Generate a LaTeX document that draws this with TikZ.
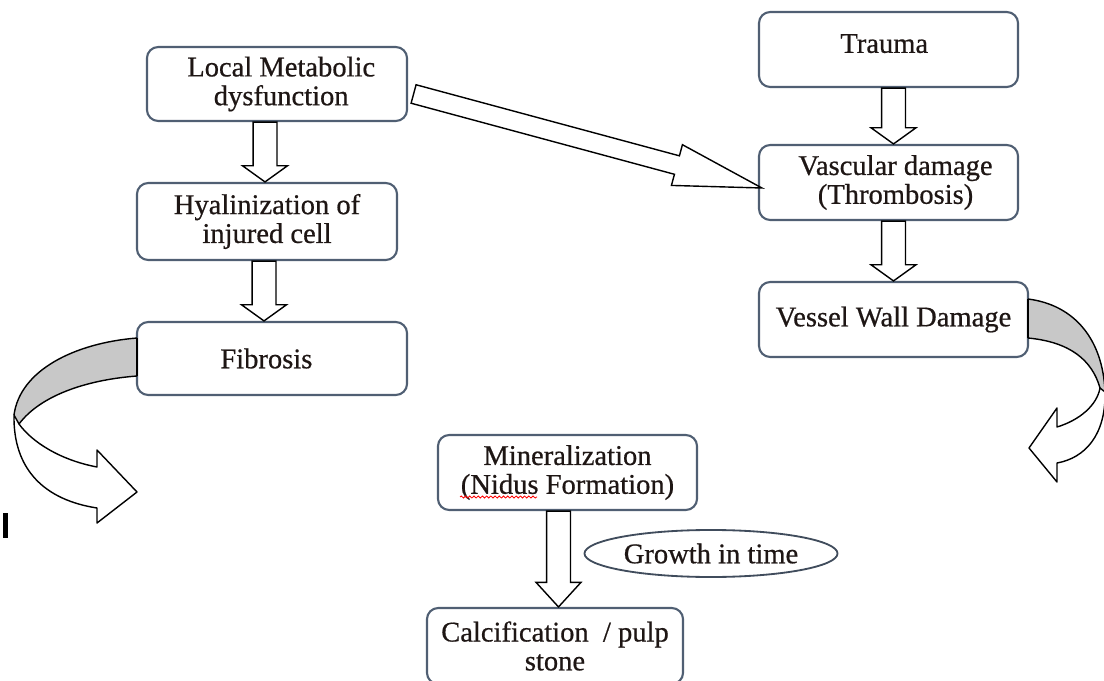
\documentclass[tikz,border=0pt]{standalone}
\usepackage{fontspec}
\setmainfont{Liberation Serif}[UprightFeatures={FakeBold=0.6}]
\usetikzlibrary{calc,shapes.geometric,decorations.pathmorphing}
\definecolor{boxline}{RGB}{80,95,115}
\definecolor{txt}{RGB}{30,22,20}
\definecolor{bandgray}{RGB}{200,200,200}
\begin{document}
\begin{tikzpicture}[x=0.025cm,y=-0.025cm]
\tikzset{
  box/.style={draw=boxline, line width=1.5pt, rounded corners=8pt, fill=white,
    minimum width=6.5cm, minimum height=1.875cm, align=center, text=txt,
    font=\fontsize{20.3}{20.5}\selectfont, inner sep=2pt},
  bshaft/.code={\def\bshaftv{#1}},
  bwide/.code={\def\bwidev{#1}},
  bhead/.code={\def\bheadv{#1}},
  bshaft=8.5pt, bwide=16pt, bhead=11.5pt,
  barrow/.style={draw=black, line width=1pt, fill=white, line join=miter,
    to path={
      ($(\tikztotarget)!\bheadv!(\tikztostart)$) coordinate (bb)
      ($(\tikztostart)!\bshaftv!90:(\tikztotarget)$)
      -- ($(bb)!\bshaftv!90:(\tikztotarget)$)
      -- ($(bb)!\bwidev!90:(\tikztotarget)$)
      -- (\tikztotarget)
      -- ($(bb)!\bwidev!-90:(\tikztotarget)$)
      -- ($(bb)!\bshaftv!-90:(\tikztotarget)$)
      -- ($(\tikztostart)!\bshaftv!-90:(\tikztotarget)$)
      -- cycle}},
  band/.style={draw=black, line width=1pt, line join=round},
}
\useasboundingbox (0,0) rectangle (1104,681);
\clip (0,0) rectangle (1104,681);

% boxes
\node[box, minimum width=6.5cm, minimum height=1.85cm] (lm) at (277,84) {\hspace*{6pt}Local Metabolic\\\hspace*{6pt}dysfunction};
\node[box, minimum width=6.5cm, minimum height=1.925cm] (hy) at (267,221.5) {Hyalinization of\\injured cell};
\node[box, minimum width=6.75cm, minimum height=1.825cm] (fib) at (272,358.5) {Fibrosis\hspace*{8pt}};
\node[box, minimum width=6.475cm, text depth=8.5pt] (tr) at (888.5,49.5) {Trauma\hspace*{6pt}};
\node[box, minimum width=6.475cm] (vd) at (888.5,182.5) {\hspace*{10pt}Vascular damage\\\hspace*{10pt}(Thrombosis)};
\node[box, minimum width=6.725cm] (vw) at (893.5,319.5) {Vessel Wall Damage};
\node[box, minimum width=6.475cm] (mn) at (567.5,472.5) {Mineralization\\(Nidus Formation)};
\node[box, minimum width=6.4cm, minimum height=1.9cm] (ca) at (555,646) {Calcification~ / pulp\\stone};
\node[ellipse, draw=boxline!80!black, line width=1.3pt, fill=white, minimum width=6.325cm,
  minimum height=1.175cm, inner sep=0pt, text=txt, font=\fontsize{20.3}{20}\selectfont] (gr) at (711,553.5) {Growth in time};

% spell-check underline
\draw[red, line width=0.6pt, decorate, decoration={snake, amplitude=0.7pt, segment length=3pt}]
  (460,497) -- (537,497);

% x positions for the vertical block arrows
\coordinate (xa) at (265,0);
\coordinate (xb) at (264,0);
\coordinate (xc) at (893.5,0);
\coordinate (xd) at (558.5,0);

\draw[barrow] (lm.south -| xa) to (hy.north -| xa);
\draw[barrow] (hy.south -| xb) to (fib.north -| xb);
\draw[barrow] (tr.south -| xc) to (vd.north -| xc);
\draw[barrow] (vd.south -| xc) to (vw.north -| xc);
\draw[barrow, bhead=17.5pt] (mn.south -| xd) to (ca.north -| xd);

% diagonal block arrow
\coordinate (dt) at ($(lm.east)+(5.5,10)$);
\coordinate (dh) at ($(vd.west)+(4,5.5)$);
\draw[barrow, bshaft=6.8pt, bwide=15pt, bhead=62.6pt] (dt) to (dh);

% left curved arrow (from Fibrosis)
\fill[bandgray] (137,338) .. controls (75,343) and (20,370) .. (14,415)
  -- (19,424) .. controls (40,396) and (85,380) .. (137,376) -- cycle;
\draw[band] (137,338) .. controls (75,343) and (20,370) .. (14,415);
\draw[band] (19,424) .. controls (40,396) and (85,380) .. (137,376);
\draw[band] (137,338) -- (137,376);
\draw[band, fill=white] (14,415) .. controls (13,470) and (45,500) .. (97,508)
  -- (97,523) -- (137,492) -- (97,450) -- (97,467)
  .. controls (60,460) and (32,442) .. (19,424) -- cycle;

% right curved arrow (from Vessel Wall Damage)
\fill[bandgray] (1028,299) .. controls (1075,305) and (1103,340) .. (1105,392)
  -- (1100,388) .. controls (1092,360) and (1070,342) .. (1028,338) -- cycle;
\draw[band] (1028,299) .. controls (1075,305) and (1103,340) .. (1105,392);
\draw[band] (1100,388) .. controls (1092,360) and (1070,342) .. (1028,338);
\draw[band] (1028,299) -- (1028,338);
\draw[band, fill=white] (1105,392) .. controls (1106,435) and (1085,458) .. (1057,463)
  -- (1057,482) -- (1029,448) -- (1057,408) -- (1057,427)
  .. controls (1080,420) and (1097,405) .. (1100,388) -- cycle;

% stray mark
\fill[black] (3,513) rectangle (8,538);
\end{tikzpicture}
\end{document}
